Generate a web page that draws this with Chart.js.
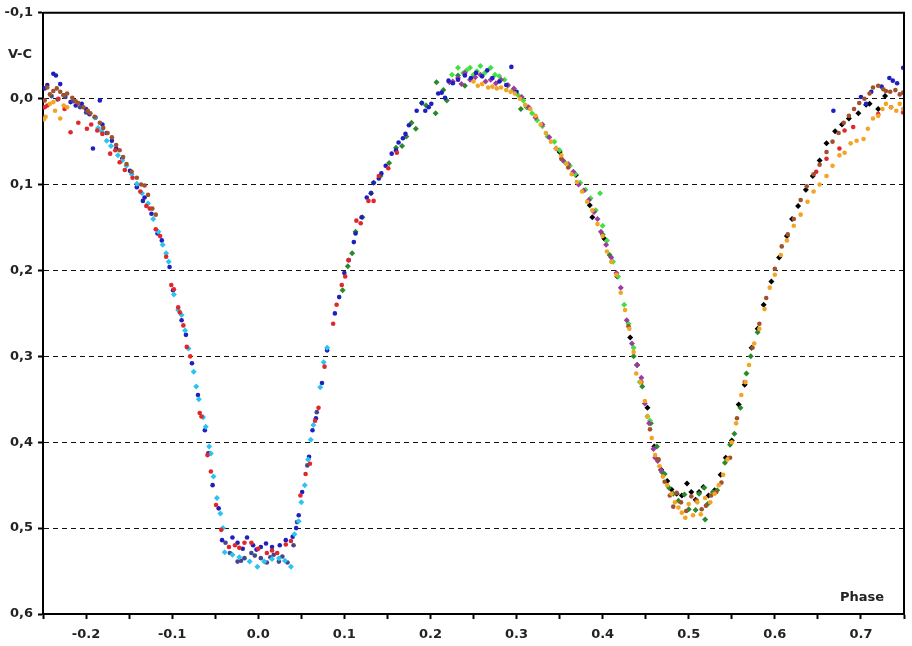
<!DOCTYPE html>
<html>
<head>
<meta charset="utf-8">
<title>V-C light curve</title>
<script src="https://cdn.jsdelivr.net/npm/chart.js@4.4.1/dist/chart.umd.min.js"></script>
<style>
  html, body { margin: 0; padding: 0; background: #fff; }
  #wrap { width: 912px; height: 646px; position: relative; }
</style>
</head>
<body>
<div id="wrap"><canvas id="lc"></canvas></div>
<script>
// phase / V-C pairs, one list per night
const bluePts = [
  [-0.248,-0.012],[-0.245,-0.016],[-0.238,-0.029],[-0.235,-0.027],[-0.23,-0.017],[-0.226,-0.004],[-0.218,0.004],
  [-0.212,0.008],[-0.205,0.006],[-0.2,0.012],[-0.196,0.018],[-0.192,0.058],[-0.189,0.022],[-0.184,0.002],
  [-0.181,0.03],[-0.176,0.04],[-0.17,0.049],[-0.165,0.058],[-0.158,0.07],[-0.149,0.084],[-0.141,0.103],
  [-0.134,0.119],[-0.132,0.115],[-0.124,0.134],[-0.117,0.157],[-0.112,0.165],[-0.103,0.196],[-0.099,0.223],
  [-0.089,0.258],[-0.084,0.275],[-0.077,0.308],[-0.07,0.345],[-0.062,0.386],[-0.058,0.413],[-0.053,0.45],
  [-0.046,0.477],[-0.042,0.514],[-0.03,0.511],[-0.024,0.517],[-0.018,0.524],[-0.013,0.511],[-0.006,0.52],
  [-0.002,0.525],[0.003,0.522],[0.009,0.518],[0.016,0.522],[0.025,0.52],[0.032,0.514],[0.04,0.51],
  [0.044,0.5],[0.047,0.485],[0.051,0.458],[0.059,0.417],[0.063,0.386],[0.067,0.372],[0.074,0.331],
  [0.08,0.293],[0.089,0.25],[0.094,0.231],[0.1,0.203],[0.105,0.188],[0.111,0.167],[0.113,0.157],
  [0.12,0.138],[0.126,0.115],[0.131,0.11],[0.134,0.098],[0.14,0.093],[0.143,0.087],[0.148,0.078],
  [0.155,0.064],[0.16,0.06],[0.163,0.051],[0.168,0.046],[0.171,0.041],[0.175,0.031],[0.184,0.014],
  [0.19,0.005],[0.194,0.014],[0.198,0.01],[0.201,0.006],[0.209,-0.006],[0.213,-0.007],[0.217,-0.001],
  [0.221,-0.021],[0.226,-0.018],[0.232,-0.022],[0.24,-0.027],[0.247,-0.024],[0.253,-0.03],[0.26,-0.026],
  [0.266,-0.033],[0.272,-0.024],[0.28,-0.02],[0.288,-0.016],[0.294,-0.037],[0.3,-0.008],
  [0.668,0.014],[0.7,-0.002],[0.706,0.006],[0.712,-0.008],[0.724,-0.014],[0.733,-0.024],[0.737,-0.021],
  [0.742,-0.018],[0.749,-0.036]
];
const redPts = [
  [-0.248,0.01],[-0.245,0.008],[-0.232,0.0],[-0.225,0.012],[-0.218,0.039],[-0.209,0.028],[-0.199,0.035],
  [-0.194,0.03],[-0.187,0.037],[-0.181,0.041],[-0.172,0.064],[-0.166,0.06],[-0.161,0.074],[-0.155,0.083],
  [-0.146,0.092],[-0.137,0.108],[-0.13,0.125],[-0.126,0.128],[-0.119,0.152],[-0.114,0.16],[-0.107,0.184],
  [-0.101,0.217],[-0.098,0.222],[-0.093,0.243],[-0.091,0.249],[-0.087,0.264],[-0.083,0.289],[-0.079,0.3],
  [-0.068,0.366],[-0.066,0.37],[-0.059,0.415],[-0.055,0.434],[-0.049,0.473],[-0.043,0.502],[-0.034,0.522],
  [-0.027,0.52],[-0.022,0.523],[-0.016,0.517],[-0.008,0.517],[0.0,0.524],[0.01,0.529],[0.016,0.526],
  [0.022,0.529],[0.032,0.519],[0.038,0.515],[0.049,0.462],[0.055,0.437],[0.06,0.425],[0.066,0.375],
  [0.07,0.36],[0.077,0.312],[0.087,0.262],[0.091,0.24],[0.097,0.217],[0.101,0.207],[0.105,0.188],
  [0.114,0.142],[0.119,0.145],[0.128,0.119],[0.134,0.119],[0.14,0.09],[0.151,0.081],[0.161,0.063],
  [0.648,0.085],[0.66,0.07],[0.675,0.058],[0.681,0.037],[0.691,0.033],[0.72,0.018],[0.735,0.01],[0.749,0.016]
];
const cyanPts = [
  [-0.19,0.022],[-0.186,0.034],[-0.182,0.038],[-0.176,0.049],[-0.171,0.055],[-0.163,0.066],[-0.158,0.072],
  [-0.153,0.078],[-0.147,0.088],[-0.141,0.099],[-0.135,0.11],[-0.128,0.122],[-0.122,0.14],[-0.116,0.155],
  [-0.111,0.17],[-0.107,0.18],[-0.104,0.19],[-0.098,0.228],[-0.093,0.246],[-0.089,0.252],[-0.085,0.27],
  [-0.081,0.291],[-0.075,0.318],[-0.072,0.335],[-0.069,0.35],[-0.064,0.371],[-0.061,0.382],[-0.057,0.405],
  [-0.055,0.413],[-0.052,0.44],[-0.048,0.465],[-0.044,0.483],[-0.041,0.5],[-0.039,0.528],[-0.03,0.531],
  [-0.022,0.534],[-0.01,0.539],[-0.001,0.545],[0.007,0.539],[0.016,0.536],[0.024,0.535],[0.031,0.538],
  [0.038,0.545],[0.042,0.507],[0.047,0.492],[0.05,0.47],[0.054,0.45],[0.058,0.42],[0.061,0.397],
  [0.064,0.38],[0.072,0.336],[0.076,0.307],[0.08,0.29]
];
const slatePts = [
  [-0.24,-0.003],[-0.233,0.001],[-0.224,-0.002],[-0.215,0.003],[-0.207,0.01],[-0.2,0.016],
  [-0.038,0.517],[-0.033,0.529],[-0.024,0.539],[-0.02,0.538],[-0.016,0.535],[-0.008,0.529],[-0.004,0.532],
  [0.003,0.535],[0.01,0.54],[0.014,0.534],[0.018,0.531],[0.024,0.539],[0.028,0.533],[0.034,0.54],
  [0.041,0.52],[0.045,0.493],[0.057,0.427],[0.068,0.365]
];
const brownPts = [
  [-0.248,0.002],[-0.245,-0.013],[-0.242,-0.005],[-0.238,-0.009],[-0.234,-0.012],[-0.23,-0.008],[-0.226,-0.004],
  [-0.222,-0.006],[-0.216,-0.001],[-0.212,0.003],[-0.209,0.005],[-0.203,0.01],[-0.198,0.014],[-0.195,0.017],
  [-0.19,0.021],[-0.184,0.028],[-0.18,0.034],[-0.175,0.04],[-0.17,0.045],[-0.165,0.054],[-0.161,0.06],
  [-0.157,0.068],[-0.153,0.076],[-0.147,0.085],[-0.141,0.092],[-0.136,0.1],[-0.132,0.101],[-0.128,0.112],
  [-0.123,0.128],[-0.119,0.135],
  [0.352,0.07],[0.36,0.08],
  [0.43,0.265],[0.445,0.33],[0.455,0.385],[0.465,0.42],[0.472,0.446],[0.478,0.462],[0.482,0.475],
  [0.486,0.459],[0.491,0.47],[0.497,0.48],[0.503,0.463],[0.509,0.468],[0.515,0.478],[0.52,0.474],
  [0.526,0.462],[0.532,0.458],[0.538,0.447],[0.548,0.418],[0.556,0.372],[0.565,0.33],[0.574,0.29],
  [0.582,0.262],[0.59,0.232],[0.6,0.198],[0.608,0.172],[0.615,0.158],[0.622,0.14],[0.63,0.118],
  [0.637,0.102],[0.645,0.088],[0.652,0.077],[0.66,0.062],[0.667,0.05],[0.674,0.04],[0.68,0.028],
  [0.686,0.02],[0.692,0.012],[0.698,0.005],[0.704,0.0],[0.71,-0.006],[0.714,-0.013],[0.72,-0.015],
  [0.726,-0.011],[0.729,-0.009],[0.734,-0.008],[0.74,-0.01],[0.745,-0.005],[0.749,-0.007]
];
const orangePts = [
  [-0.249,0.024],[-0.247,0.021],[-0.242,0.006],[-0.238,0.004],[-0.236,0.014],[-0.23,0.023],[-0.226,0.008],
  [-0.222,0.01],
  [0.25,-0.02],[0.255,-0.015],[0.26,-0.017],[0.267,-0.013],[0.272,-0.014],[0.277,-0.012],[0.282,-0.013],
  [0.288,-0.01],[0.293,-0.008],[0.298,-0.006],[0.304,0.0],[0.31,0.007],[0.316,0.012],[0.322,0.02],
  [0.328,0.03],[0.334,0.04],[0.34,0.05],[0.346,0.058],[0.352,0.066],[0.358,0.076],[0.364,0.088],
  [0.37,0.097],[0.376,0.108],[0.382,0.12],[0.388,0.13],[0.394,0.146],[0.4,0.16],[0.405,0.178],
  [0.41,0.19],[0.416,0.205],[0.421,0.226],[0.426,0.246],[0.431,0.268],[0.436,0.295],[0.439,0.32],
  [0.444,0.33],[0.449,0.352],[0.452,0.37],[0.457,0.395],[0.461,0.415],[0.466,0.428],[0.47,0.44],
  [0.475,0.45],[0.48,0.46],[0.484,0.47],[0.488,0.476],[0.492,0.482],[0.496,0.488],[0.5,0.472],
  [0.505,0.485],[0.51,0.47],[0.514,0.484],[0.519,0.465],[0.525,0.47],[0.53,0.46],[0.535,0.45],
  [0.54,0.438],[0.545,0.42],[0.55,0.4],[0.555,0.378],[0.561,0.345],[0.566,0.33],[0.57,0.31],
  [0.576,0.285],[0.582,0.268],[0.588,0.245],[0.594,0.22],[0.6,0.205],[0.607,0.182],[0.614,0.165],
  [0.622,0.148],[0.63,0.135],[0.638,0.12],[0.645,0.108],[0.652,0.1],[0.66,0.09],[0.667,0.078],
  [0.675,0.066],[0.681,0.063],[0.688,0.052],[0.695,0.049],[0.703,0.047],[0.708,0.035],[0.714,0.023],
  [0.72,0.02],[0.725,0.012],[0.729,0.006],[0.735,0.01],[0.741,0.014],[0.745,0.006],[0.749,0.012]
];
const purplePts = [
  [0.222,-0.019],[0.226,-0.02],[0.232,-0.024],[0.236,-0.017],[0.24,-0.03],[0.246,-0.022],[0.252,-0.025],
  [0.258,-0.028],[0.264,-0.02],[0.27,-0.022],[0.276,-0.018],[0.282,-0.022],[0.29,-0.016],[0.297,-0.012],
  [0.306,-0.002],[0.314,0.01],[0.322,0.022],[0.33,0.03],[0.338,0.045],[0.346,0.058],[0.354,0.072],
  [0.36,0.076],[0.366,0.085],[0.372,0.1],[0.378,0.107],[0.384,0.118],[0.39,0.132],[0.394,0.14],
  [0.398,0.155],[0.404,0.17],[0.41,0.185],[0.416,0.203],[0.421,0.22],[0.428,0.258],[0.434,0.285],
  [0.44,0.31],[0.445,0.325],[0.449,0.355],[0.454,0.378],[0.459,0.408],[0.461,0.418],[0.464,0.422],
  [0.468,0.433]
];
const greenPts = [
  [0.225,-0.028],[0.232,-0.036],[0.238,-0.03],[0.242,-0.033],[0.246,-0.036],[0.25,-0.028],[0.254,-0.032],
  [0.258,-0.038],[0.263,-0.03],[0.27,-0.036],[0.275,-0.028],[0.28,-0.026],[0.286,-0.022],[0.29,-0.015],
  [0.296,-0.01],[0.302,-0.004],[0.308,0.002],[0.312,0.01],[0.318,0.017],[0.324,0.025],[0.33,0.032],
  [0.336,0.044],[0.344,0.05],[0.35,0.06],[0.356,0.074],[0.362,0.078],[0.368,0.088],[0.374,0.098],
  [0.38,0.106],[0.386,0.116],[0.392,0.13],[0.397,0.11],[0.4,0.148],[0.405,0.165],[0.412,0.19],
  [0.418,0.207],[0.425,0.24],[0.43,0.262],[0.436,0.29],[0.443,0.33],[0.452,0.37],[0.455,0.375]
];
const darkGreenPts = [
  [0.098,0.223],[0.104,0.195],[0.109,0.18],[0.113,0.155],[0.121,0.138],[0.131,0.11],[0.134,0.098],
  [0.142,0.09],[0.152,0.075],[0.16,0.057],[0.167,0.055],[0.172,0.044],[0.178,0.028],[0.183,0.035],
  [0.19,0.005],[0.195,0.008],[0.206,0.017],[0.207,-0.019],[0.215,-0.01],[0.219,0.002],[0.232,-0.027],
  [0.24,-0.015],[0.305,0.012],
  [0.4,0.158],[0.408,0.182],[0.436,0.3],[0.446,0.335],[0.456,0.378],[0.463,0.405],[0.469,0.435],
  [0.472,0.437],[0.477,0.453],[0.482,0.46],[0.488,0.468],[0.495,0.461],[0.5,0.478],[0.508,0.479],
  [0.512,0.46],[0.518,0.453],[0.519,0.49],[0.522,0.472],[0.528,0.458],[0.533,0.456],[0.542,0.424],
  [0.548,0.403],[0.553,0.39],[0.56,0.36],[0.567,0.32],[0.572,0.3],[0.58,0.272]
];
const blackPts = [
  [0.312,0.01],[0.35,0.062],[0.369,0.089],[0.385,0.124],[0.388,0.138],[0.402,0.163],[0.417,0.207],
  [0.432,0.278],[0.44,0.31],[0.452,0.36],[0.46,0.405],[0.468,0.432],[0.475,0.445],[0.48,0.455],
  [0.486,0.46],[0.492,0.462],[0.498,0.448],[0.503,0.458],[0.508,0.467],[0.512,0.458],[0.517,0.452],
  [0.523,0.462],[0.53,0.456],[0.537,0.438],[0.543,0.418],[0.55,0.398],[0.558,0.356],[0.565,0.333],
  [0.573,0.29],[0.58,0.268],[0.587,0.24],[0.596,0.213],[0.605,0.185],[0.614,0.16],[0.62,0.14],
  [0.627,0.125],[0.636,0.106],[0.644,0.09],[0.652,0.072],[0.66,0.052],[0.67,0.038],[0.678,0.03],
  [0.686,0.023],[0.697,0.017],[0.706,0.007],[0.71,0.006],[0.72,0.012],[0.728,-0.003]
];

const xTicksMin = -0.25, xTicksMax = 0.75, xStep = 0.05;
const yTicksMin = -0.1, yTicksMax = 0.6, yStep = 0.1;

const FONT = '"DejaVu Sans", Verdana, sans-serif';

function series(pts, color, shape, r) {
  return {
    data: pts.map(p => ({ x: p[0], y: p[1] })),
    backgroundColor: color,
    borderColor: color,
    borderWidth: 0,
    pointStyle: shape,
    pointRadius: r,
    pointHoverRadius: r
  };
}

// frame + axis captions
const framePlugin = {
  id: 'frame',
  afterDraw(chart) {
    const { ctx, chartArea: a } = chart;
    ctx.save();
    ctx.strokeStyle = '#000';
    ctx.lineWidth = 2;
    ctx.beginPath();
    ctx.moveTo(a.left, a.top);
    ctx.lineTo(a.right, a.top);
    ctx.lineTo(a.right, a.bottom);
    ctx.stroke();
    ctx.fillStyle = '#222';
    ctx.font = 'bold 13px ' + FONT;
    ctx.textAlign = 'center';
    ctx.textBaseline = 'middle';
    ctx.fillText('V-C', 20, 55);
    ctx.fillText('Phase', 862, 598);
    ctx.restore();
  }
};

new Chart(document.getElementById('lc'), {
  type: 'scatter',
  data: {
    datasets: [
      series(orangePts, '#f4a424', 'circle', 2.3),
      series(brownPts, '#a0522d', 'circle', 2.3),
      series(redPts, '#e2262a', 'circle', 2.3),
      series(cyanPts, '#2cc3f0', 'rectRot', 3),
      series(slatePts, '#46468f', 'circle', 2.3),
      series(bluePts, '#1f1fc0', 'circle', 2.3),
      series(purplePts, '#9c3c9c', 'rectRot', 3),
      series(greenPts, '#40e040', 'rectRot', 3),
      series(darkGreenPts, '#2a8a2a', 'rectRot', 3),
      series(blackPts, '#000000', 'rectRot', 3)
    ]
  },
  options: {
    responsive: true,
    maintainAspectRatio: false,
    animation: false,
    devicePixelRatio: 1,
    layout: { padding: { top: 12, right: 4, left: 0, bottom: 0 } },
    plugins: { legend: { display: false }, tooltip: { enabled: false } },
    scales: {
      x: {
        type: 'linear',
        min: xTicksMin,
        max: xTicksMax,
        afterFit(s) { s.height = 32; },
        border: { display: true, color: '#000', width: 2 },
        grid: { drawOnChartArea: false, drawTicks: true, tickLength: 5, tickColor: '#000', tickWidth: 2 },
        ticks: {
          stepSize: xStep,
          autoSkip: false,
          maxRotation: 0,
          padding: 8,
          color: '#222',
          font: { family: FONT, size: 13, weight: 'bold' },
          callback(v) {
            const r = Math.round(v * 100);
            return r % 10 === 0 ? (r / 100).toFixed(1) : '';
          }
        }
      },
      y: {
        type: 'linear',
        reverse: true,
        min: yTicksMin,
        max: yTicksMax,
        afterFit(s) { s.width = 43; },
        border: { display: true, color: '#000', width: 2, dash: [5, 4] },
        grid: {
          color(c) {
            const v = Math.round(c.tick.value * 10);
            return (v === -1 || v === 6) ? 'rgba(0,0,0,0)' : '#111';
          },
          lineWidth: 1,
          tickLength: 5,
          tickColor: '#000',
          tickWidth: 2
        },
        ticks: {
          stepSize: yStep,
          padding: 5,
          color: '#222',
          font: { family: FONT, size: 13, weight: 'bold' },
          callback(v) { return (Math.round(v * 10) / 10).toFixed(1).replace('.', ','); }
        }
      }
    }
  },
  plugins: [framePlugin]
});
</script>
</body>
</html>
